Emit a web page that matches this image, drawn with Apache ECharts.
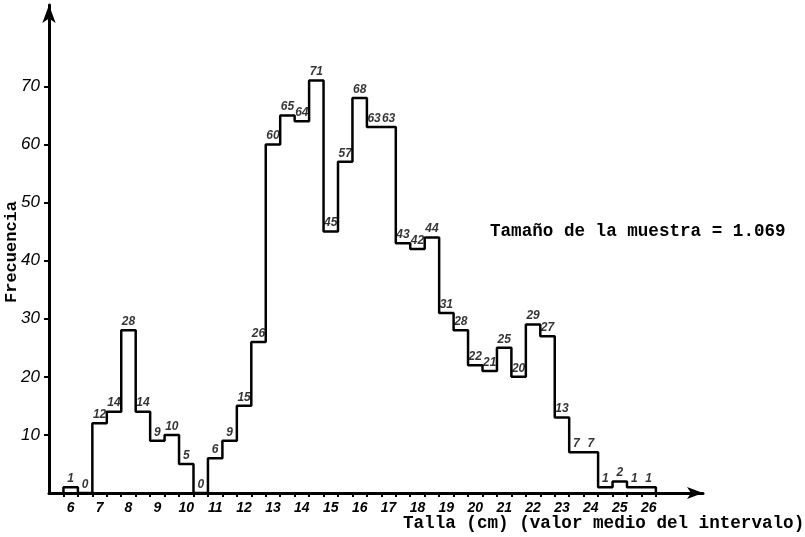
<!DOCTYPE html>
<html>
<head>
<meta charset="utf-8">
<script src="https://cdn.jsdelivr.net/npm/echarts@6/dist/echarts.min.js"></script>
<style>
html,body{margin:0;padding:0;background:#fff;}
#c{width:805px;height:537px;}
</style>
</head>
<body>
<div id="c"></div>
<script>
// Bin centres (cm), half-centimetre classes
const binCenters = [6,6.5,7,7.5,8,8.5,9,9.5,10,10.5,11,11.5,12,12.5,13,13.5,14,14.5,15,15.5,16,16.5,17,17.5,18,18.5,19,19.5,20,20.5,21,21.5,22,22.5,23,23.5,24,24.5,25,25.5,26];
// Frequencies (sum = 1069)
const freq = [1,0,12,14,28,14,9,10,5,0,6,9,15,26,60,65,64,71,45,57,68,63,63,43,42,44,31,28,22,21,25,20,29,27,13,7,7,1,2,1,1];
const xTickLabels = [6,7,8,9,10,11,12,13,14,15,16,17,18,19,20,21,22,23,24,25,26];
const yTickLabels = [10,20,30,40,50,60,70];
const binWidth = 0.5;

const half = binWidth / 2;
const stepData = [[binCenters[0] - half, 0]];
binCenters.forEach((c, i) => stepData.push([c - half, freq[i]]));
stepData.push([binCenters[binCenters.length - 1] + half, 0]);
const labelData = binCenters.map((c, i) => [c, freq[i]]);
const edgeTicks = binCenters.map(c => c - half).concat([binCenters[binCenters.length - 1] + half]);

const handFont = '"Liberation Sans", sans-serif';
const typeFont = '"Liberation Mono", "DejaVu Sans Mono", monospace';

const chart = echarts.init(document.getElementById('c'));
chart.setOption({
  animation: false,
  backgroundColor: '#ffffff',
  grid: { left: 49, right: 102, top: 5, bottom: 44, containLabel: false, outerBoundsMode: 'none' },
  xAxis: {
    type: 'value', min: 5.25, max: 27.88,
    axisLine: { show: true, lineStyle: { color: '#000', width: 3 }, symbol: ['none', 'arrow'], symbolSize: [9, 16] },
    axisTick: { show: true, customValues: edgeTicks, length: 4, lineStyle: { color: '#000', width: 2 } },
    axisLabel: { customValues: xTickLabels, color: '#000', fontFamily: handFont, fontStyle: 'italic', fontWeight: 'bold', fontSize: 14, margin: 8 },
    splitLine: { show: false }
  },
  yAxis: {
    type: 'value', min: 0, max: 84,
    axisLine: { show: true, lineStyle: { color: '#000', width: 3 }, symbol: ['none', 'arrow'], symbolSize: [10, 18] },
    axisTick: { show: true, customValues: yTickLabels, length: 5, lineStyle: { color: '#000', width: 2 } },
    axisLabel: { customValues: yTickLabels, color: '#000', fontFamily: handFont, fontStyle: 'italic', fontSize: 17, margin: 9 },
    splitLine: { show: false }
  },
  series: [
    {
      type: 'line', step: 'end', data: stepData, symbol: 'none',
      lineStyle: { color: '#000', width: 2.5 }, z: 3
    },
    {
      type: 'scatter', data: labelData, symbolSize: 1, itemStyle: { color: 'rgba(0,0,0,0)' },
      label: {
        show: true, position: 'top', distance: 2,
        formatter: p => String(p.value[1]),
        color: '#000', fontFamily: handFont, fontStyle: 'italic', fontWeight: 'bold', fontSize: 12
      },
      z: 4
    }
  ],
  graphic: [
    { type: 'text', left: 490, top: 223, style: { text: 'Tamaño de la muestra = 1.069', font: 'bold 17.6px ' + typeFont, fill: '#000' } },
    { type: 'text', left: 403, top: 515, style: { text: 'Talla (cm) (valor medio del intervalo)', font: 'bold 17.6px ' + typeFont, fill: '#000' } },
    { type: 'text', x: 12, y: 252, rotation: Math.PI / 2, style: { text: 'Frecuencia', font: 'bold 17px ' + typeFont, fill: '#000', align: 'center', verticalAlign: 'middle' } }
  ]
});
</script>
</body>
</html>
